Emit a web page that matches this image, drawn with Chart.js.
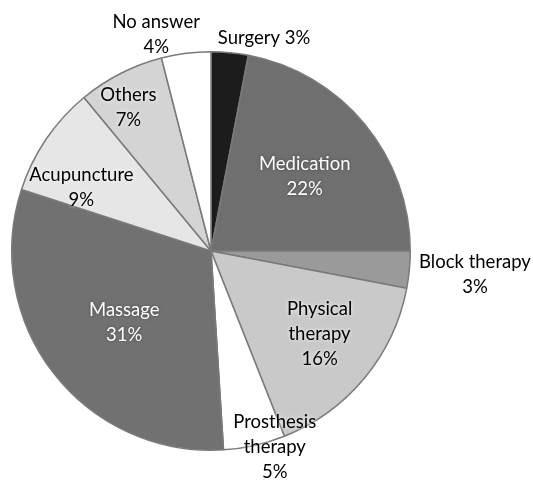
<!DOCTYPE html>
<html>
<head>
<meta charset="utf-8">
<script src="https://cdn.jsdelivr.net/npm/chart.js@4.4.1/dist/chart.umd.min.js"></script>
<style>
  html, body { margin: 0; padding: 0; background: #fff; }
  #wrap { width: 533px; height: 480px; }
</style>
</head>
<body>
<div id="wrap"><canvas id="myChart"></canvas></div>
<script>
// slices clockwise from 12 o'clock
const categories = ['Surgery', 'Medication', 'Block therapy', 'Physical therapy', 'Prosthesis therapy', 'Massage', 'Acupuncture', 'Others', 'No answer'];
const values = [3, 22, 3, 16, 5, 31, 9, 7, 4];
const labelLines = [
    ['Surgery 3%'],
    ['Medication', '22%'],
    ['Block therapy', '3%'],
    ['Physical', 'therapy', '16%'],
    ['Prosthesis', 'therapy', '5%'],
    ['Massage', '31%'],
    ['Acupuncture', '9%'],
    ['Others', '7%'],
    ['No answer', '4%']
];
const sliceColors = ['#1c1c1c', '#6f6f6f', '#9a9a9a', '#c9c9c9', '#ffffff', '#717171', '#e6e6e6', '#d4d4d4', '#ffffff'];
const textColors = ['#000', '#fff', '#000', '#000', '#000', '#fff', '#000', '#000', '#000'];
// label block centre: [distance from centre as fraction of radius, angle in degrees (0 = right, clockwise)]
const labelAnchor = [
    [1.10, -76], [0.60, -38.4], [1.33, 5.1], [0.685, 37.3], [1.036, 72], [0.565, 140.4], [0.725, 206.2], [0.829, 240], [1.12, 255.8]
];

const sliceLabels = {
    id: 'sliceLabels',
    afterDatasetsDraw(chart) {
        const ctx = chart.ctx;
        const arc = chart.getDatasetMeta(0).data[0];
        const cx = arc.x, cy = arc.y, r = arc.outerRadius;
        ctx.save();
        ctx.font = '18.5px Lato';
        ctx.textAlign = 'center';
        ctx.textBaseline = 'middle';
        const lh = 25;
        for (let i = 0; i < labelLines.length; i++) {
            const a = labelAnchor[i][1] * Math.PI / 180;
            const x = cx + Math.cos(a) * r * labelAnchor[i][0];
            const y = cy + Math.sin(a) * r * labelAnchor[i][0];
            const lines = labelLines[i];
            const y0 = y - (lines.length - 1) * lh / 2;
            for (let j = 0; j < lines.length; j++) {
                ctx.fillStyle = textColors[i];
                if (textColors[i] === '#000') {
                    ctx.shadowColor = 'rgba(255,255,255,1)';
                    ctx.shadowBlur = 4;
                } else {
                    ctx.shadowColor = 'rgba(0,0,0,0.4)';
                    ctx.shadowBlur = 3;
                }
                ctx.fillText(lines[j], x, y0 + j * lh);
            }
        }
        ctx.restore();
    }
};

const data = {
    labels: categories,
    datasets: [{
        data: values,
        backgroundColor: sliceColors,
        borderColor: '#7a7a7a',
        borderWidth: 1.5
    }]
};

const config = {
    type: 'pie',
    data: data,
    options: {
        responsive: true,
        maintainAspectRatio: false,
        animation: false,
        layout: {
            padding: { left: 10, right: 121, top: 51, bottom: 29 }
        },
        plugins: {
            legend: { display: false },
            tooltip: { enabled: false }
        }
    },
    plugins: [sliceLabels]
};

const myChart = new Chart(document.getElementById('myChart'), config);
</script>
</body>
</html>
